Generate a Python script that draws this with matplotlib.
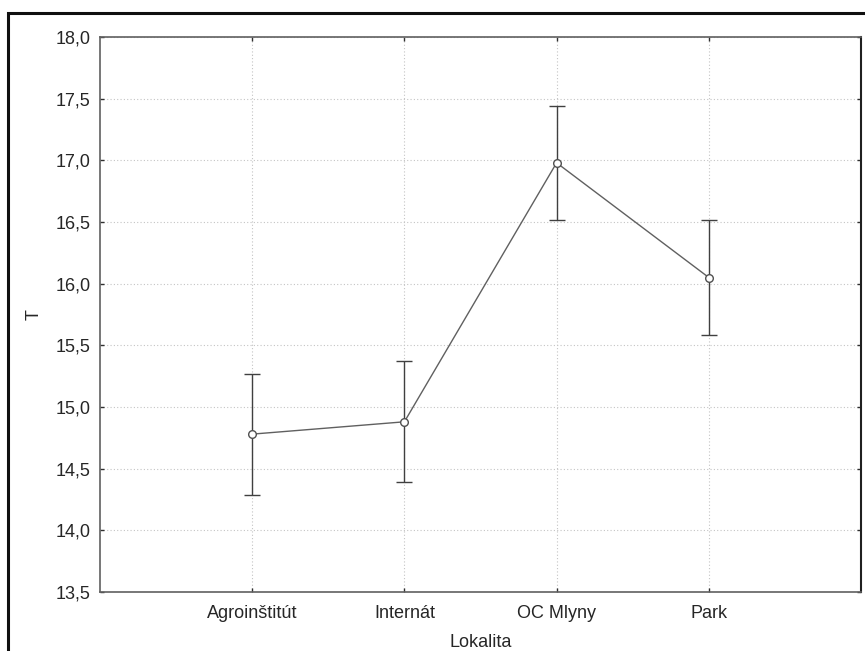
import matplotlib
matplotlib.use("Agg")
import matplotlib.pyplot as plt
from matplotlib.patches import Rectangle

plt.rcParams['font.family'] = ['Liberation Sans', 'DejaVu Sans']

# priemerná teplota podľa lokality s intervalmi
lokality = ['Agroinštitút', 'Internát', 'OC Mlyny', 'Park']
priemer = [14.78, 14.88, 16.98, 16.05]
chyba = [0.49, 0.49, 0.46, 0.465]
y_ticks = [13.5, 14.0, 14.5, 15.0, 15.5, 16.0, 16.5, 17.0, 17.5, 18.0]

fig = plt.figure(figsize=(8.65, 6.51), dpi=100)
ax = fig.add_axes([100 / 865, 59 / 651, 761 / 865, 555 / 651])

pozicie = list(range(1, len(lokality) + 1))
ax.errorbar(pozicie, priemer, yerr=chyba, fmt='none', ecolor='#404040',
            elinewidth=1.0, capsize=6, capthick=1.0, zorder=3)
ax.plot(pozicie, priemer, color='#606060', lw=1.0, marker='o', markersize=5.5,
        markerfacecolor='white', markeredgecolor='#505050', markeredgewidth=1.0,
        zorder=4)

ax.set_xlim(0, 5)
ax.set_ylim(13.5, 18.0)
ax.set_xticks(pozicie)
ax.set_xticklabels(lokality)
ax.set_yticks(y_ticks)
ax.set_yticklabels([f'{v:.1f}'.replace('.', ',') for v in y_ticks])

ax.grid(True, color='#c4c4c4', linestyle=(0, (1, 2)), linewidth=0.8)
ax.set_axisbelow(True)
ax.tick_params(direction='in', length=3, width=1, color='#303030',
               top=True, right=True, labelsize=13, labelcolor='#262626')
ax.tick_params(axis='y', pad=7)
ax.tick_params(axis='x', pad=9)

for side in ['left', 'bottom', 'top']:
    ax.spines[side].set_color('#606060')
    ax.spines[side].set_linewidth(1.2)
ax.spines['right'].set_color('#202020')
ax.spines['right'].set_linewidth(1.5)

ax.set_xlabel('Lokalita', fontsize=13, color='#262626', labelpad=9)
ax.set_ylabel('T', fontsize=13, color='#262626', labelpad=9)

# rámček okolo celého grafu
fig.patches.append(Rectangle((8 / 865, -0.1), 1.2, (651 - 13) / 651 + 0.1,
                             transform=fig.transFigure, fill=False,
                             edgecolor='#101010', linewidth=2.2))

fig.savefig('out.png', dpi=100)
